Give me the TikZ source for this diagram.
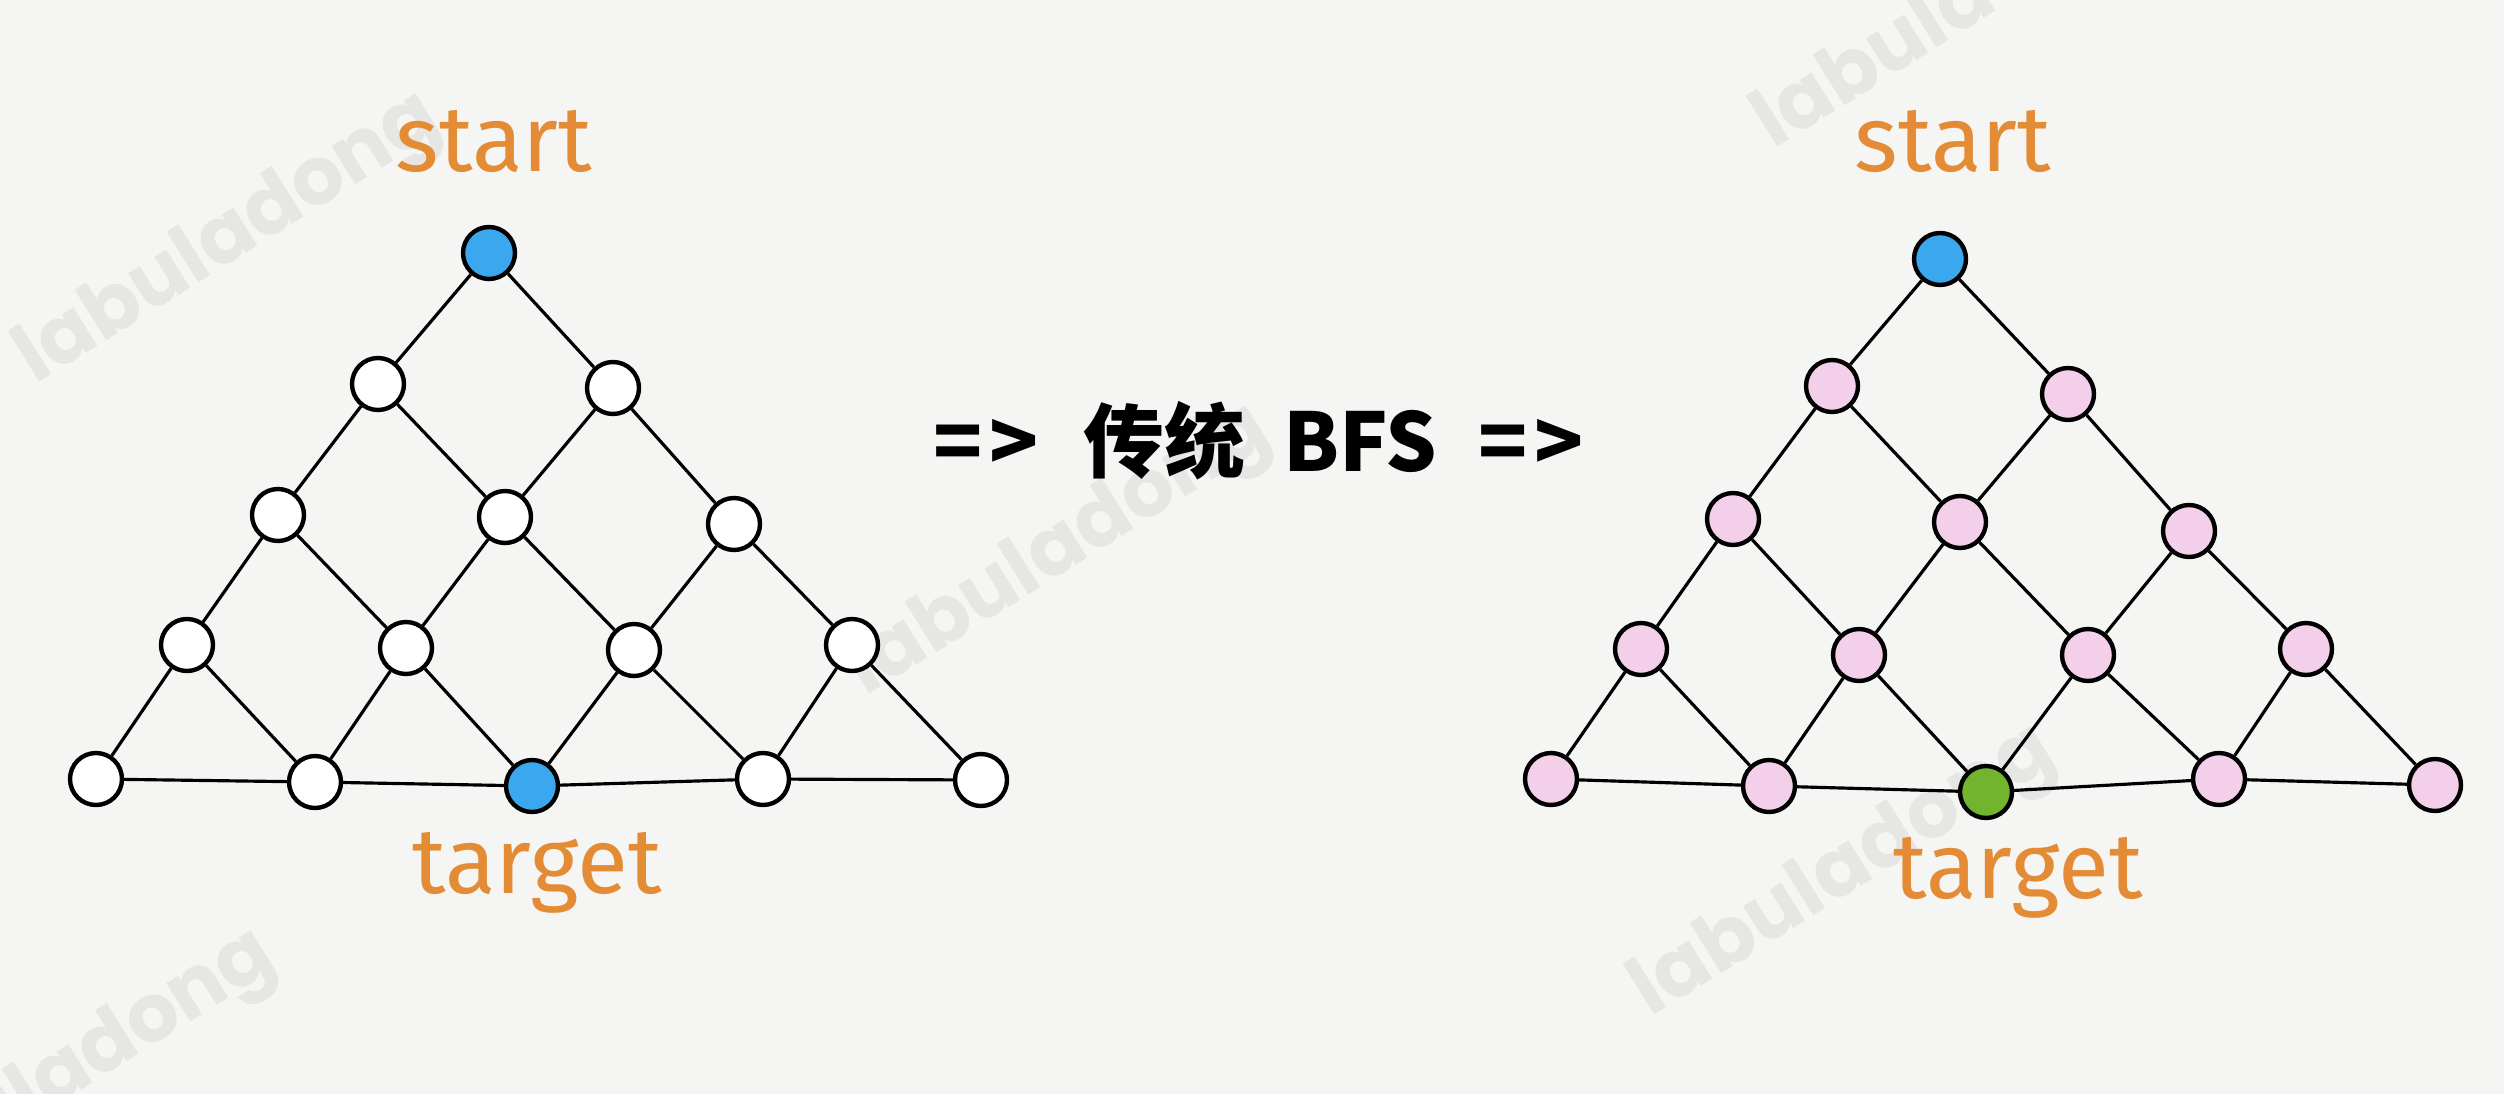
\documentclass[tikz,border=0pt]{standalone}
\usepackage{fontspec}
\setmainfont{Fira Sans}
\newfontfamily\cjk{Noto Sans CJK SC}
\newfontfamily\wmfont{Poppins}
\definecolor{bgc}{HTML}{F5F5F3}
\definecolor{wmc}{HTML}{E6E6E4}
\definecolor{nblue}{HTML}{3BA7EE}
\definecolor{npink}{HTML}{F3CFEA}
\definecolor{ngreen}{HTML}{72B42E}
\definecolor{lorange}{HTML}{E38B35}
\begin{document}
\begin{tikzpicture}[x=0.02cm,y=-0.02cm,
  v/.style={circle, draw=black, line width=2.5pt, minimum size=1.04cm, inner sep=0pt, fill=white},
  vb/.style={v, fill=nblue},
  vp/.style={v, fill=npink},
  vg/.style={v, fill=ngreen},
  edge/.style={line width=1.8pt, draw=black},
  lbl/.style={text=lorange, font=\fontsize{53}{60}\selectfont, anchor=base, inner sep=0pt},
  mid/.style={font=\cjk\bfseries\fontsize{46}{50}\selectfont, anchor=base, inner sep=0pt},
  wm/.style={font=\wmfont\bfseries\fontsize{46}{50}\selectfont, text=wmc, rotate=32, anchor=base west, inner sep=0pt}]
\fill[bgc] (0,0) rectangle (2504,1094);
\useasboundingbox (0,0) rectangle (2504,1094);
% watermarks
\begin{scope}
\clip (0,0) rectangle (2504,1094);
\node[wm] (w1) at (35,385) {labuladong};
\node[wm] (w2) at (865,697) {labuladong};
\node[wm] (w3) at (1650,1018) {labuladong};
\node[wm] (w4) at (1773,150) {labuladong};
\node[wm] (w5) at (-130,1222) {labuladong};
\end{scope}
% left lattice
\node[vb] (L11) at (489,253) {};
\node[v] (L21) at (378,384) {};
\node[v] (L22) at (613,388) {};
\node[v] (L31) at (278,515) {};
\node[v] (L32) at (505,517) {};
\node[v] (L33) at (734,524) {};
\node[v] (L41) at (187,645) {};
\node[v] (L42) at (406,648) {};
\node[v] (L43) at (634,650) {};
\node[v] (L44) at (852,645) {};
\node[v] (L51) at (96,779) {};
\node[v] (L52) at (315,782) {};
\node[vb] (L53) at (532,786) {};
\node[v] (L54) at (763,779) {};
\node[v] (L55) at (981,780) {};
% right lattice
\node[vb] (R11) at (1940,259) {};
\node[vp] (R21) at (1832,386) {};
\node[vp] (R22) at (2068,394) {};
\node[vp] (R31) at (1733,519) {};
\node[vp] (R32) at (1960,522) {};
\node[vp] (R33) at (2189,531) {};
\node[vp] (R41) at (1641,649) {};
\node[vp] (R42) at (1859,655) {};
\node[vp] (R43) at (2088,655) {};
\node[vp] (R44) at (2306,649) {};
\node[vp] (R51) at (1551,779) {};
\node[vp] (R52) at (1769,786) {};
\node[vg] (R53) at (1986,792) {};
\node[vp] (R54) at (2219,779) {};
\node[vp] (R55) at (2435,785) {};
% edges
\foreach \s in {L,R}{
  \foreach \r in {1,...,4}{
    \pgfmathtruncatemacro\rn{\r+1}
    \foreach \c in {1,...,\r}{
      \pgfmathtruncatemacro\cn{\c+1}
      \draw[edge] (\s\r\c) -- (\s\rn\c);
      \draw[edge] (\s\r\c) -- (\s\rn\cn);
    }
  }
  \foreach \c in {1,...,4}{
    \pgfmathtruncatemacro\cn{\c+1}
    \draw[edge] (\s5\c) -- (\s5\cn);
  }
}
% labels
\node[lbl] (ls) at (494,172) {start};
\node[lbl] (lt) at (537,893) {target};
\node[lbl] (rs) at (1953,172) {start};
\node[lbl] (rt) at (2018,898) {target};
% middle text
\node[mid] (a1) at (986,472) {=\kern0.08em>};
\node[mid] (m1) at (1164,472) {传统};
\node[mid] (m2) at (1360,472) {BFS};
\node[mid] (a2) at (1531,472) {=\kern0.08em>};
\end{tikzpicture}
\end{document}
